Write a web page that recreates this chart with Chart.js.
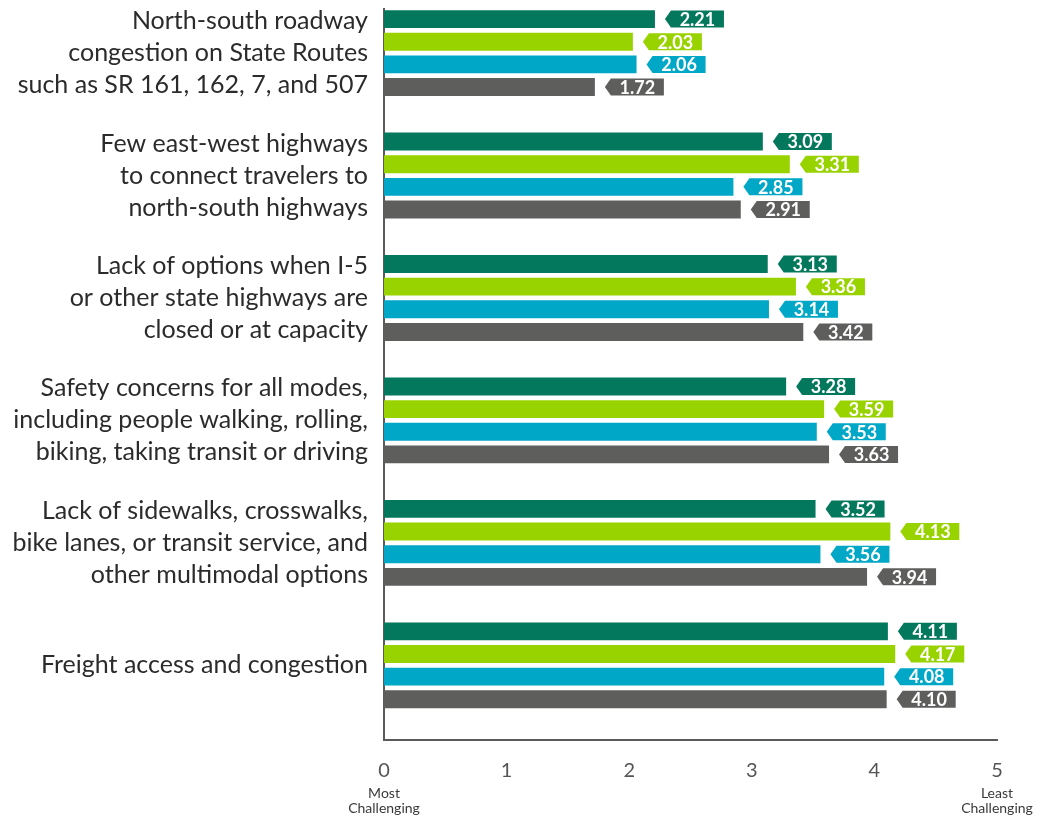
<!DOCTYPE html>
<html>
<head>
<meta charset="utf-8">
<script src="https://cdn.jsdelivr.net/npm/chart.js@4"></script>
<style>
  html, body { margin: 0; padding: 0; background: #fff; }
  #wrap { width: 1052px; height: 819px; position: relative; }
</style>
</head>
<body>
<div id="wrap"><canvas id="challengeChart"></canvas></div>
<script>
const categories = [
  ['North-south roadway', 'congestion on State Routes', 'such as SR 161, 162, 7, and 507'],
  ['Few east-west highways', 'to connect travelers to', 'north-south highways'],
  ['Lack of options when I-5', 'or other state highways are', 'closed or at capacity'],
  ['Safety concerns for all modes,', 'including people walking, rolling,', 'biking, taking transit or driving'],
  ['Lack of sidewalks, crosswalks,', 'bike lanes, or transit service, and', 'other multimodal options'],
  ['Freight access and congestion']
];

const seriesNames = ['Series 1', 'Series 2', 'Series 3', 'Series 4'];
const series1 = [2.21, 3.09, 3.13, 3.28, 3.52, 4.11];
const series2 = [2.03, 3.31, 3.36, 3.59, 4.13, 4.17];
const series3 = [2.06, 2.85, 3.14, 3.53, 3.56, 4.08];
const series4 = [1.72, 2.91, 3.42, 3.63, 3.94, 4.10];

const xTicks = [0, 1, 2, 3, 4, 5];
const xEndLabels = [['Most', 'Challenging'], ['Least', 'Challenging']];

const colors = ['#03785c', '#98d300', '#00a7c7', '#5e5f5d'];

function makeSet(name, values, color) {
  return {
    label: name,
    data: values.map((v, i) => ({ x: v, y: i })),
    backgroundColor: color,
    borderWidth: 0,
    categoryPercentage: 0.74,
    barPercentage: 0.79
  };
}

// arrow shaped value tags next to each bar
const valueTags = {
  id: 'valueTags',
  afterDatasetsDraw(chart) {
    const { ctx } = chart;
    ctx.save();
    chart.data.datasets.forEach((ds, di) => {
      const meta = chart.getDatasetMeta(di);
      meta.data.forEach((bar, i) => {
        const tip = bar.x + 10;
        const notch = 6;
        const w = 53;
        const h = 17;
        const y = bar.y;
        ctx.fillStyle = ds.backgroundColor;
        ctx.beginPath();
        ctx.moveTo(tip, y);
        ctx.lineTo(tip + notch, y - h / 2);
        ctx.lineTo(tip + notch + w, y - h / 2);
        ctx.lineTo(tip + notch + w, y + h / 2);
        ctx.lineTo(tip + notch, y + h / 2);
        ctx.closePath();
        ctx.fill();
        ctx.fillStyle = '#fff';
        ctx.font = 'bold 18px Lato';
        ctx.textAlign = 'center';
        ctx.textBaseline = 'middle';
        ctx.fillText(ds.data[i].x.toFixed(2), tip + notch + w / 2, y + 1);
      });
    });
    ctx.restore();
  }
};

// "Most / Least Challenging" under the end ticks
const endLabels = {
  id: 'endLabels',
  afterDraw(chart) {
    const { ctx } = chart;
    const xs = chart.scales.x;
    const bottom = chart.chartArea.bottom;
    ctx.save();
    ctx.font = '14px Lato';
    ctx.fillStyle = '#3a3a3a';
    ctx.textAlign = 'center';
    ctx.textBaseline = 'middle';
    [xs.min, xs.max].forEach((v, k) => {
      const px = xs.getPixelForValue(v);
      xEndLabels[k].forEach((line, j) => {
        ctx.fillText(line, px, bottom + 53 + j * 15);
      });
    });
    ctx.restore();
  }
};

new Chart(document.getElementById('challengeChart'), {
  type: 'bar',
  data: {
    datasets: [
      makeSet(seriesNames[0], series1, colors[0]),
      makeSet(seriesNames[1], series2, colors[1]),
      makeSet(seriesNames[2], series3, colors[2]),
      makeSet(seriesNames[3], series4, colors[3])
    ]
  },
  options: {
    indexAxis: 'y',
    responsive: true,
    maintainAspectRatio: false,
    animation: false,
    layout: { padding: { top: 9, right: 55, left: 0, bottom: 0 } },
    plugins: {
      legend: { display: false },
      tooltip: { enabled: false }
    },
    scales: {
      x: {
        type: 'linear',
        min: xTicks[0],
        max: xTicks[xTicks.length - 1],
        grid: { display: false, drawTicks: false },
        border: { display: true, color: '#5a5a5a', width: 2 },
        afterBuildTicks(scale) {
          scale.ticks = xTicks.map(v => ({ value: v }));
        },
        afterFit(scale) {
          scale.height = 79;
          scale.paddingLeft = 0;
          scale.paddingRight = 0;
        },
        ticks: {
          autoSkip: false,
          maxRotation: 0,
          padding: 19,
          color: '#555',
          font: { family: 'Lato', size: 20 }
        }
      },
      y: {
        type: 'linear',
        reverse: true,
        offset: false,
        min: -0.36,
        max: 5.61,
        grid: { display: false, drawTicks: false },
        border: { display: true, color: '#5a5a5a', width: 2 },
        afterBuildTicks(scale) {
          scale.ticks = categories.map((_, i) => ({ value: i }));
        },
        afterFit(scale) {
          scale.width = 384;
          scale.paddingTop = 0;
          scale.paddingBottom = 0;
        },
        ticks: {
          autoSkip: false,
          padding: 16,
          color: '#2b2b2b',
          font: { family: 'Lato', size: 25, lineHeight: 1.28 },
          callback: (value) => categories[value]
        }
      }
    }
  },
  plugins: [valueTags, endLabels]
});
</script>
</body>
</html>
